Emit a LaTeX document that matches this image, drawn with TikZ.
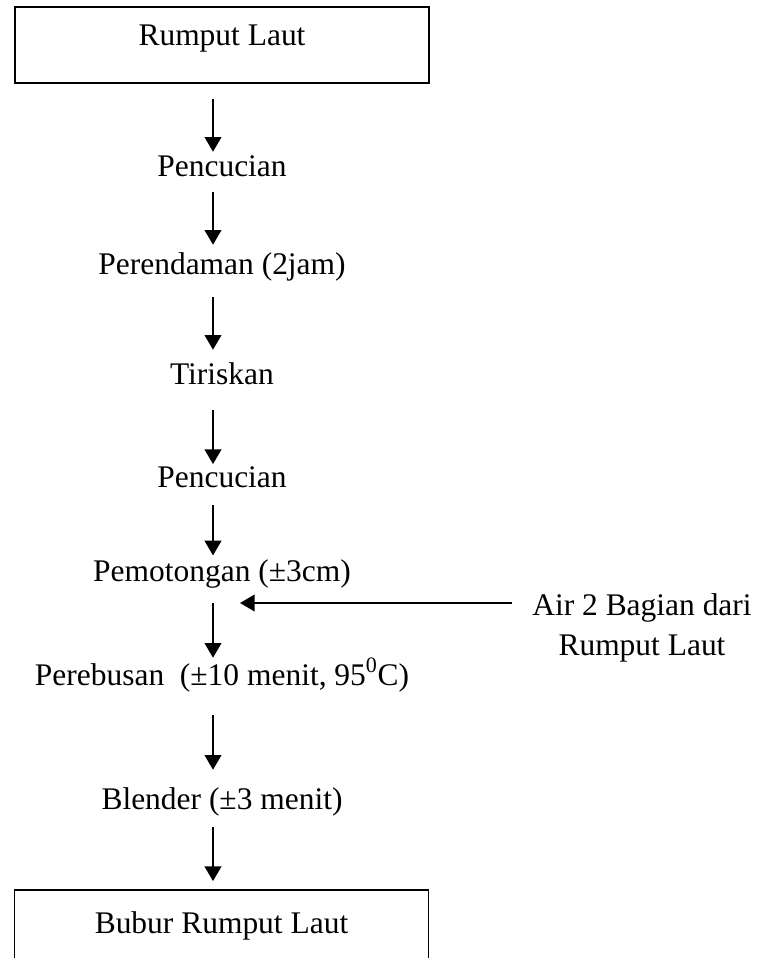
\documentclass[tikz,border=0pt]{standalone}
\usepackage{fontspec}
\setmainfont{Liberation Serif}
\usetikzlibrary{positioning, arrows.meta}

\tikzset{
    stage/.style={inner sep=0pt, text height=18pt, text depth=6pt, font=\fontsize{23.6}{30}\selectfont},
    endbox/.style={draw, line width=1.4pt, minimum width=310.5pt, minimum height=57pt, inner sep=0pt,
        text height=18pt, text depth=18pt, font=\fontsize{23.6}{28}\selectfont},
    flow/.style={-{Triangle[length=11pt, width=12.5pt]}, line width=1.4pt},
}

\begin{document}
\begin{tikzpicture}[x=0.75pt, y=-0.75pt]
    \useasboundingbox (0,0) rectangle (764,958);
    % axis of the vertical arrows
    \coordinate (ax) at (213,0);

    % Start and end
    \node[endbox] (rumput) at (222,45) {Rumput Laut};
    \node[endbox, text depth=10pt] (bubur) at (221.5,928) {Bubur Rumput Laut};

    % Steps
    \node[stage] (cuci1) at (222,168) {Pencucian};
    \node[stage] (rendam) at (222,266) {Perendaman (2jam)};
    \node[stage] (tiris) at (222,376) {Tiriskan};
    \node[stage] (cuci2) at (222,479) {Pencucian};
    \node[stage] (potong) at (222,573) {Pemotongan (±3cm)};
    \node[stage] (rebus) at (222,677) {Perebusan\ \ (±10 menit, 95\textsuperscript{0}C)};
    \node[stage] (blender) at (222,801) {Blender (±3 menit)};

    % Water input
    \node[stage, align=center] (air) at (642,647) {Air 2 Bagian dari\\Rumput Laut};
    \coordinate (masuk) at (240,603);

    % Flow
    \draw[flow, shorten <=11.25pt] (rumput.south -| ax) -- (cuci1.north -| ax);
    \draw[flow, shorten <=6pt, shorten >=3.75pt] (cuci1.south -| ax) -- (rendam.north -| ax);
    \draw[flow, shorten <=11.25pt, shorten >=7.5pt] (rendam.south -| ax) -- (tiris.north -| ax);
    \draw[flow, shorten <=13.5pt, shorten >=-1pt] (tiris.south -| ax) -- (cuci2.north -| ax);
    \draw[flow, shorten <=7.5pt, shorten >=1pt] (cuci2.south -| ax) -- (potong.north -| ax);
    \draw[flow, shorten <=10.5pt, shorten >=2.25pt] (potong.south -| ax) -- (rebus.north -| ax);
    \draw[flow, shorten <=16.5pt, shorten >=11.25pt] (rebus.south -| ax) -- (blender.north -| ax);
    \draw[flow, shorten <=7.5pt, shorten >=6pt] (blender.south -| ax) -- (bubur.north -| ax);
    \draw[flow, shorten <=15pt] (air.west |- masuk) -- (masuk);
\end{tikzpicture}
\end{document}
